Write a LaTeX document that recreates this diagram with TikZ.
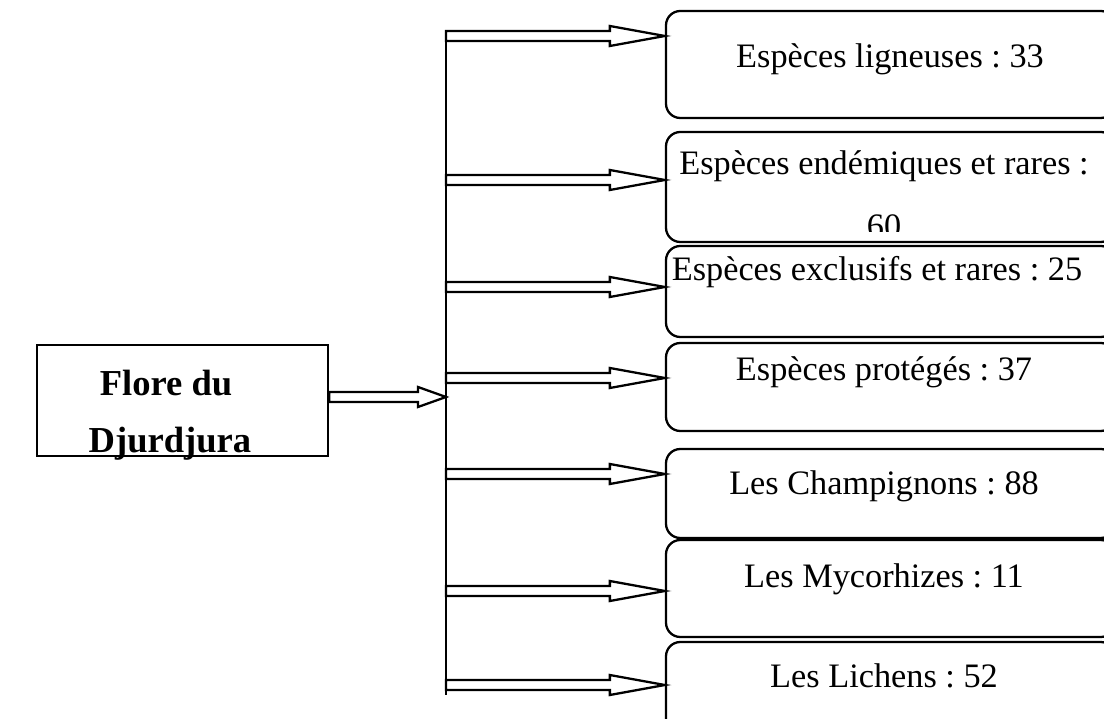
\documentclass[tikz,border=0pt]{standalone}
\usepackage{fontspec}
\setmainfont{Liberation Serif}
\usetikzlibrary{calc}
\frenchspacing

\newcommand{\px}{0.35pt}
% fleche double : depart, arrivee, longueur de la pointe
\newcommand{\fleche}[3]{%
	\draw[trait] let \p1=#1, \p2=#2 in
		(\x1,\y1+1.75pt) -- (\x2-#3,\y1+1.75pt) -- (\x2-#3,\y1+3.5pt) -- (\x2,\y1)
		-- (\x2-#3,\y1-3.5pt) -- (\x2-#3,\y1-1.75pt) -- (\x1,\y1-1.75pt) -- cycle;}

\tikzset{
	trait/.style={line width=0.8pt, line join=miter},
	boite/.style={draw, line width=0.8pt, rounded corners=5pt, minimum width=449*\px, inner sep=0pt},
	texte/.style={anchor=base, inner sep=0pt, font=\fontsize{12}{14}\selectfont}
}

\begin{document}
\begin{tikzpicture}[x=\px, y=-\px]
		\useasboundingbox (0,0) rectangle (1104,719);

		\node[draw, line width=0.8pt, minimum width=291*\px, minimum height=111*\px] (flore) at (182.5,400.5) {};
		\node[anchor=base, inner sep=0pt, font=\fontsize{12.8}{15}\bfseries] (f1) at (166,396) {Flore du};
		\node[anchor=base, inner sep=0pt, font=\fontsize{12.8}{15}\bfseries] (f2) at (170,453) {Djurdjura};

		% les boites
		\node[boite, minimum height=107*\px] (b1) at (890.5,64.5) {};
		\node[boite, minimum height=110*\px] (b2) at (890.5,187) {};
		\node[boite, minimum height=91*\px] (b3) at (890.5,291.5) {};
		\node[boite, minimum height=88*\px] (b4) at (890.5,387) {};
		\node[boite, minimum height=89*\px] (b5) at (890.5,493.5) {};
		\node[boite, minimum height=97*\px] (b6) at (890.5,588.5) {};
		\node[boite, minimum height=98*\px] (b7) at (890.5,691) {};

		\node[texte] (t1) at (890,68) {Espèces ligneuses : 33};
		\node[texte] (t2) at (884,175) {Espèces endémiques et rares :};
		\begin{scope}
			\clip (666,132) rectangle (1104,232);
			\node[texte] (t2b) at (884,238) {60};
		\end{scope}
		\node[texte] (t3) at (877,281) {Espèces exclusifs et rares : 25};
		\node[texte] (t4) at (884,381) {Espèces protégés : 37};
		\node[texte] (t5) at (884,495) {Les Champignons : 88};
		\node[texte] (t6) at (884,588) {Les Mycorhizes : 11};
		\node[texte] (t7) at (884,687) {Les Lichens : 52};

		% ligne verticale
		\coordinate (vh) at (446,32);
		\coordinate (vb) at (446,695);
		\draw[trait] (vh) -- (vb);

		\fleche{(flore.east |- 0,397)}{(446,397)}{28*\px}

		\foreach \i/\y in {1/36, 2/180, 3/287, 4/378, 5/474, 6/591, 7/685} {
			\coordinate (v\i) at (446,\y);
			\fleche{(v\i)}{(b\i.west |- v\i)}{55*\px}
		}
	\end{tikzpicture}
\end{document}
